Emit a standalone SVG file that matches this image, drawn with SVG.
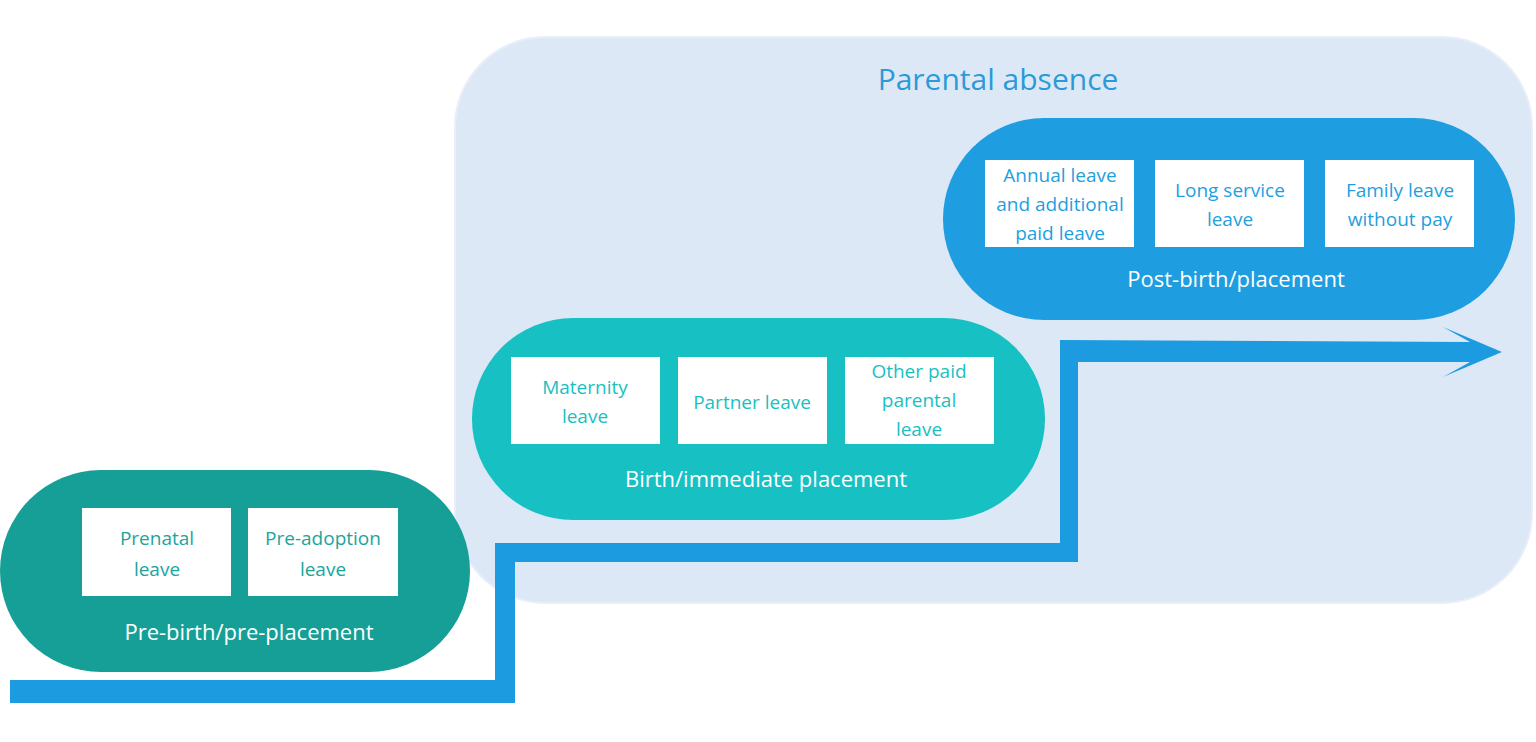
<svg xmlns="http://www.w3.org/2000/svg" width="1536" height="742" viewBox="0 0 1536 742">
<style>
text{font-family:"Open Sans","Liberation Sans",sans-serif}
.box{fill:#fff}
.lbl{fill:#fff;font-size:22px;text-anchor:middle}
.t1{fill:#1aa59c;font-size:19px;text-anchor:middle}
.t2{fill:#19bfc2;font-size:19px;text-anchor:middle}
.t3{fill:#1e9fe0;font-size:19px;text-anchor:middle}
</style>
<rect width="1536" height="742" fill="#fff"/>
<g id="panel">
<rect x="455" y="37" width="1077" height="566" rx="90" fill="#dde8f7" stroke="#e8eff9" stroke-width="2"/>
<text x="998" y="90" font-size="30" fill="#2b9ad8" text-anchor="middle">Parental absence</text>
</g>
<g id="connectors">
<polygon points="10,680 495,680 495,543 1060,543 1060,340 1470,342 1443,327 1502,352 1443,377 1470,362 1078,362 1078,562 515,562 515,703 10,703" fill="#1d9be0"/>
</g>
<g id="pre">
<rect x="0" y="470" width="470" height="202" rx="101" fill="#169f97"/>
<rect class="box" x="82" y="508" width="149" height="88"/>
<rect class="box" x="248" y="508" width="150" height="88"/>
<text class="t1" x="157" y="545">Prenatal</text><text class="t1" x="157" y="576">leave</text>
<text class="t1" x="323" y="545">Pre-adoption</text><text class="t1" x="323" y="576">leave</text>
<text class="lbl" x="249" y="640">Pre-birth/pre-placement</text>
</g>
<g id="birth">
<rect x="472" y="318" width="573" height="202" rx="101" fill="#17c0c3"/>
<rect class="box" x="511" y="357" width="149" height="87"/>
<rect class="box" x="678" y="357" width="149" height="87"/>
<rect class="box" x="845" y="357" width="149" height="87"/>
<text class="t2" x="585" y="394">Maternity</text><text class="t2" x="585" y="423">leave</text>
<text class="t2" x="752" y="409">Partner leave</text>
<text class="t2" x="919" y="378">Other paid</text><text class="t2" x="919" y="407">parental</text><text class="t2" x="919" y="436">leave</text>
<text class="lbl" x="766" y="487">Birth/immediate placement</text>
</g>
<g id="post">
<rect x="943" y="118" width="572" height="202" rx="101" fill="#1e9ee0"/>
<rect class="box" x="985" y="160" width="149" height="87"/>
<rect class="box" x="1155" y="160" width="149" height="87"/>
<rect class="box" x="1325" y="160" width="149" height="87"/>
<text class="t3" x="1060" y="182">Annual leave</text><text class="t3" x="1060" y="211">and additional</text><text class="t3" x="1060" y="240">paid leave</text>
<text class="t3" x="1230" y="197">Long service</text><text class="t3" x="1230" y="226">leave</text>
<text class="t3" x="1400" y="197">Family leave</text><text class="t3" x="1400" y="226">without pay</text>
<text class="lbl" x="1236" y="287">Post-birth/placement</text>
</g>
</svg>
